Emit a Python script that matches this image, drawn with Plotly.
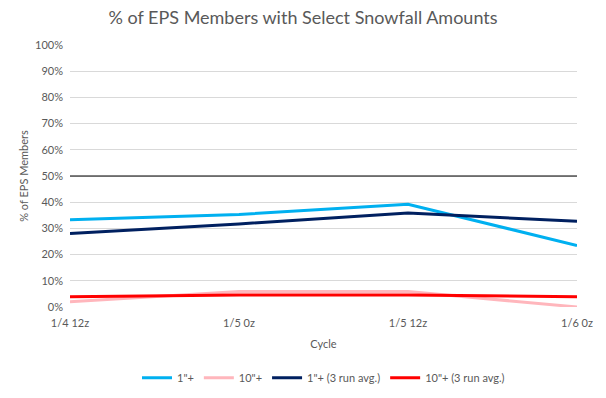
import plotly.graph_objects as go

cycles = ["1/4 12z", "1/5 0z", "1/5 12z", "1/6 0z"]
one_inch = [33.3, 35.3, 39.2, 23.5]
ten_inch = [2.0, 5.9, 5.9, 0.0]
one_inch_avg = [28.1, 31.7, 35.9, 32.7]
ten_inch_avg = [3.9, 4.6, 4.6, 3.9]
y_ticks = list(range(0, 101, 10))
y_tick_labels = [f"{v}%" for v in y_ticks]

series = [
    ('1"+', one_inch, "#00b0f0"),
    ('10"+', ten_inch, "#ffb6bc"),
    ('1"+ (3 run avg.)', one_inch_avg, "#002060"),
    ('10"+ (3 run avg.)', ten_inch_avg, "#ff0000"),
]

fig = go.Figure()
for name, vals, color in series:
    fig.add_trace(go.Scatter(x=cycles, y=vals, mode="lines", name=name,
                             line=dict(color=color, width=3)))

font_family = "Lato, Open Sans, sans-serif"
fig.add_shape(type="line", xref="x domain", yref="y", x0=0, x1=1, y0=50, y1=50,
              line=dict(color="#000000", width=1), layer="above")

fig.update_layout(
    width=606, height=398,
    margin=dict(l=70, r=29, t=45, b=91, autoexpand=False),
    paper_bgcolor="white", plot_bgcolor="white",
    font=dict(family=font_family, color="#595959", size=11),
    title=dict(text="% of EPS Members with Select Snowfall Amounts", x=0.5, xanchor="center",
               y=0.955, yanchor="middle", font=dict(size=18, color="#595959")),
    xaxis=dict(title=dict(text="Cycle", font=dict(size=11), standoff=12), automargin=False,
               type="category", range=[0, 3], showgrid=False, zeroline=False,
               showline=False, ticks="", tickfont=dict(size=11), ticklabelstandoff=8),
    yaxis=dict(title=dict(text="% of EPS Members", font=dict(size=11), standoff=4), automargin=False,
               range=[0, 100], tickvals=y_ticks, ticktext=y_tick_labels,
               showgrid=True, gridcolor="#d9d9d9", gridwidth=1, zeroline=False,
               showline=False, ticks="", tickfont=dict(size=11), ticklabelstandoff=6),
    legend=dict(orientation="h", x=0.5, xanchor="center", y=-0.27, yanchor="middle",
                font=dict(size=11), itemwidth=30),
    showlegend=True,
)

fig.write_html("out.html", config={"displayModeBar": False},
               post_script="document.body.style.margin='0';document.body.style.overflow='hidden';")
